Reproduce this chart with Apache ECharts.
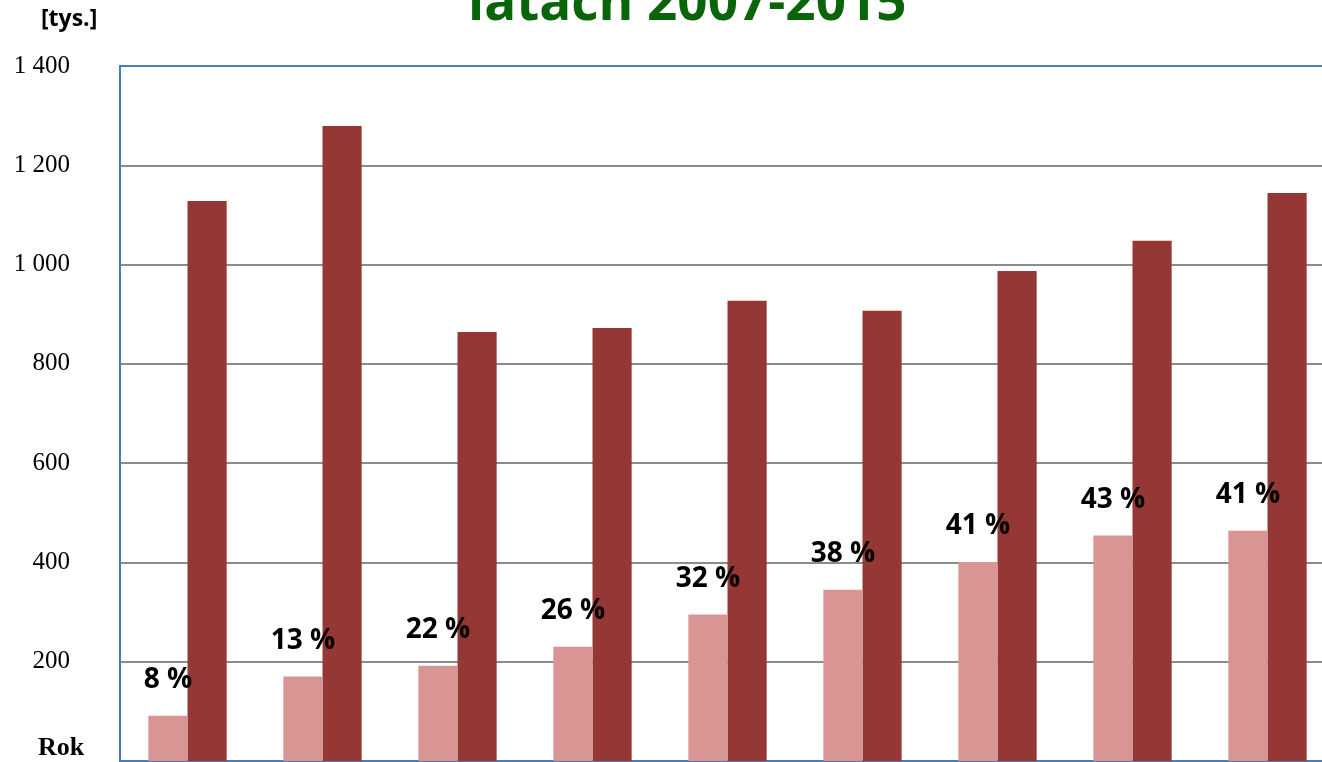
<!DOCTYPE html>
<html lang="pl">
<head>
    <meta charset="UTF-8">
    <title>latach 2007-2015</title>
    <script src="https://cdn.jsdelivr.net/npm/echarts@6/dist/echarts.min.js"></script>
</head>
<style type="text/css">
    html, body {
        margin: 0;
        padding: 0;
        background: #fff;
        overflow: hidden;
    }

    /* wykres jest przycięty z prawej strony, więc płótno jest szersze od okna */
    #chart {
        width: 1335px;
        height: 762px;
    }
</style>
<body>
<div id="chart"></div>

<script>
    // dane [tys.]
    var years = ['2007', '2008', '2009', '2010', '2011', '2012', '2013', '2014', '2015'];
    var partValues = [91, 170, 192, 230, 295, 345, 401, 454, 464];
    var totalValues = [1128, 1279, 864, 872, 927, 907, 987, 1048, 1144];
    var shareLabels = ['8 %', '13 %', '22 %', '26 %', '32 %', '38 %', '41 %', '43 %', '41 %'];

    var chart = echarts.init(document.getElementById('chart'));

    function formatTick(v) {
        // separator tysięcy: spacja
        return String(v).replace(/\B(?=(\d{3})+(?!\d))/g, ' ');
    }

    var option = {
        animation: false,
        backgroundColor: '#ffffff',
        graphic: [
            {
                type: 'text',
                left: 468,
                top: -22,
                style: {
                    text: 'latach 2007-2015',
                    fill: '#0a640a',
                    font: 'bold 53px "Open Sans", "Noto Sans", sans-serif'
                }
            },
            {
                type: 'text',
                left: 41,
                top: 8,
                style: {
                    text: '[tys.]',
                    fill: '#000',
                    font: 'bold 23px "Open Sans", "Noto Sans", sans-serif'
                }
            },
            {
                type: 'text',
                left: 38,
                top: 735,
                style: {
                    text: 'Rok',
                    fill: '#000',
                    font: 'bold 26px "Liberation Serif", serif'
                }
            }
        ],
        grid: {
            left: 120,
            top: 66,
            right: 0,
            bottom: 1,
            show: true,
            borderColor: '#4a7ebb',
            borderWidth: 2
        },
        xAxis: {
            type: 'category',
            data: years,
            axisLine: { show: false },
            axisTick: { show: false },
            axisLabel: { show: false }
        },
        yAxis: {
            type: 'value',
            min: 0,
            max: 1400,
            interval: 200,
            axisLine: { show: true, lineStyle: { color: '#4a7ebb', width: 2 } },
            axisTick: { show: false },
            axisLabel: {
                margin: 50,
                color: '#000',
                fontFamily: '"Liberation Serif", serif',
                fontSize: 25,
                formatter: function (v) {
                    return v === 0 ? '' : formatTick(v);
                }
            },
            splitLine: {
                showMinLine: false,
                showMaxLine: false,
                lineStyle: { color: '#8c8c8c', width: 2 }
            }
        },
        series: [
            {
                name: 'część',
                type: 'bar',
                data: partValues,
                barGap: '0%',
                barCategoryGap: '42%',
                itemStyle: { color: '#d99594' },
                label: {
                    show: true,
                    position: 'top',
                    distance: 22,
                    color: '#000',
                    fontWeight: 'bold',
                    fontSize: 28,
                    fontFamily: '"Open Sans", "Noto Sans", sans-serif',
                    formatter: function (p) {
                        return shareLabels[p.dataIndex];
                    }
                },
                z: 2
            },
            {
                name: 'ogółem',
                type: 'bar',
                data: totalValues,
                itemStyle: { color: '#953735' },
                z: 1
            }
        ]
    };

    chart.setOption(option);
</script>
</body>
</html>
